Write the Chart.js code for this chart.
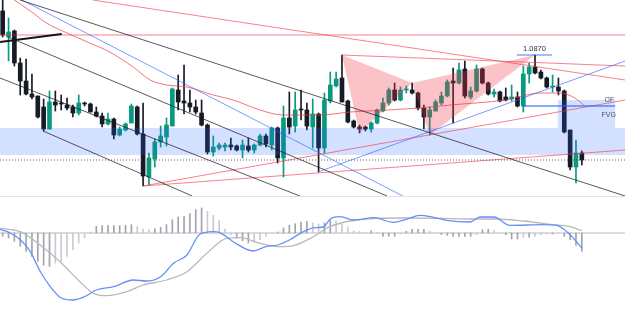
<!DOCTYPE html>
<html><head><meta charset="utf-8">
<script src="https://cdn.jsdelivr.net/npm/chart.js@4.4.1/dist/chart.umd.min.js"></script>
<style>
html,body{margin:0;padding:0;background:#fff;width:625px;height:310px;overflow:hidden}
canvas{display:block}
#sep{height:1px;background:#e0e3eb;width:625px}
</style></head><body>
<canvas id="top" width="625" height="196"></canvas>
<div id="sep"></div>
<canvas id="bot" width="625" height="113"></canvas>
<script>
// ---------- price candles (index 0..99) ----------
const opens = [1.0914,1.0888,1.0894,1.0862,1.0844,1.0831,1.0829,1.0818,1.0796,1.0823,
 1.0822,1.0820,1.0818,1.0812,1.0822,1.0821,1.0813,1.0809,1.0801,1.0806,
 1.0790,1.0795,1.0802,1.0818,1.0791,1.0748,1.0766,1.0783,1.0788,1.0799,
 1.0835,1.0824,1.0822,1.0818,1.0812,1.0800,1.0773,1.0777,1.0778,1.0780,
 1.0779,1.0775,1.0779,1.0775,1.0780,1.0789,1.0780,1.0797,1.0767,1.0807,
 1.0799,1.0816,1.0815,1.0798,1.0811,1.0777,1.0824,1.0839,1.0847,1.0824,
 1.0804,1.0798,1.0798,1.0796,1.0802,1.0814,1.0822,1.0835,1.0825,1.0835,
 1.0835,1.0832,1.0817,1.0808,1.0814,1.0822,1.0829,1.0844,1.0842,1.0856,
 1.0828,1.0834,1.0856,1.0842,1.0831,1.0833,1.0828,1.0826,1.0828,1.0819,
 1.0851,1.0858,1.0853,1.0847,1.0838,1.0838,1.0834,1.0795,1.0758,1.0772];
const highs = [1.0930,1.0907,1.0895,1.0867,1.0866,1.0851,1.0829,1.0826,1.0834,1.0834,
 1.0830,1.0827,1.0820,1.0830,1.0823,1.0822,1.0818,1.0812,1.0812,1.0807,
 1.0798,1.0802,1.0821,1.0819,1.0822,1.0772,1.0786,1.0799,1.0807,1.0837,
 1.0850,1.0860,1.0835,1.0825,1.0825,1.0801,1.0789,1.0782,1.0782,1.0787,
 1.0780,1.0785,1.0787,1.0781,1.0791,1.0791,1.0798,1.0798,1.0819,1.0833,
 1.0833,1.0835,1.0822,1.0826,1.0812,1.0832,1.0853,1.0853,1.0870,1.0825,
 1.0805,1.0800,1.0799,1.0803,1.0816,1.0827,1.0837,1.0842,1.0838,1.0839,
 1.0842,1.0833,1.0820,1.0818,1.0825,1.0833,1.0845,1.0857,1.0862,1.0864,
 1.0838,1.0860,1.0857,1.0843,1.0836,1.0834,1.0837,1.0840,1.0833,1.0859,
 1.0862,1.0870,1.0855,1.0848,1.0850,1.0847,1.0835,1.0795,1.0785,1.0774];
const lows = [1.0888,1.0864,1.0859,1.0830,1.0830,1.0826,1.0807,1.0794,1.0796,1.0814,
 1.0815,1.0815,1.0808,1.0810,1.0819,1.0813,1.0808,1.0798,1.0800,1.0786,
 1.0789,1.0794,1.0802,1.0790,1.0739,1.0740,1.0758,1.0778,1.0779,1.0799,
 1.0815,1.0811,1.0813,1.0811,1.0799,1.0771,1.0769,1.0775,1.0774,1.0775,
 1.0774,1.0767,1.0773,1.0772,1.0779,1.0778,1.0775,1.0762,1.0748,1.0791,
 1.0793,1.0805,1.0795,1.0777,1.0753,1.0772,1.0822,1.0838,1.0823,1.0802,
 1.0797,1.0792,1.0794,1.0793,1.0801,1.0813,1.0820,1.0824,1.0824,1.0832,
 1.0831,1.0815,1.0796,1.0790,1.0814,1.0820,1.0828,1.0802,1.0841,1.0827,
 1.0826,1.0833,1.0841,1.0830,1.0828,1.0823,1.0824,1.0824,1.0818,1.0813,
 1.0842,1.0851,1.0846,1.0837,1.0833,1.0830,1.0792,1.0755,1.0742,1.0760];
const closes = [1.0890,1.0893,1.0862,1.0844,1.0831,1.0828,1.0808,1.0796,1.0823,1.0820,
 1.0821,1.0817,1.0812,1.0822,1.0821,1.0813,1.0809,1.0801,1.0806,1.0790,
 1.0796,1.0801,1.0819,1.0791,1.0749,1.0767,1.0783,1.0789,1.0800,1.0836,
 1.0823,1.0822,1.0818,1.0813,1.0800,1.0773,1.0778,1.0780,1.0780,1.0778,
 1.0775,1.0780,1.0775,1.0780,1.0789,1.0781,1.0797,1.0767,1.0807,1.0798,
 1.0815,1.0815,1.0799,1.0811,1.0777,1.0825,1.0840,1.0846,1.0823,1.0803,
 1.0798,1.0796,1.0796,1.0802,1.0815,1.0822,1.0835,1.0825,1.0835,1.0836,
 1.0832,1.0817,1.0808,1.0815,1.0823,1.0829,1.0843,1.0842,1.0855,1.0829,
 1.0834,1.0856,1.0842,1.0831,1.0833,1.0824,1.0825,1.0828,1.0819,1.0851,
 1.0858,1.0852,1.0847,1.0838,1.0839,1.0834,1.0793,1.0758,1.0772,1.0765];

// ---------- moving average (index, price) ----------
const maCurve = [[1.25,1.0928],[5.2,1.0912],[7.2,1.0903],[11,1.0892],[14.9,1.0882],[18.3,1.0873],
 [22.3,1.0858],[25.2,1.0845],[28.1,1.0840],[31.5,1.0838],[36,1.0830],[39.4,1.0825],[44,1.0815],
 [47.9,1.0810],[54.2,1.0810],[59.4,1.0813],[62.3,1.0814],[71.3,1.0817],[76.5,1.0820],[85.9,1.0825],
 [91.9,1.0832],[95.3,1.0832],[97.8,1.0827],[99.5,1.0819]];

// ---------- drawn trend lines (index, price) ----------
const trendG1 = [[2.96,1.0925],[106.4,1.0729]];
const trendB  = [[0.9,1.0888],[65.7,1.0729]];
const trendC  = [[-0.46,1.0847],[50.8,1.0729]];
const trendD  = [[6.9,1.0794],[32.4,1.0729]];
const boldLine = [[-0.46,1.0883],[10.1,1.0891]];
const blueDown = [[2.96,1.0926],[68.4,1.0729]];
const blueUp   = [[53.9,1.0753],[106.4,1.0864]];
const redTop   = [[15.4,1.0925],[106.4,1.0845]];
const redFlat  = [[-0.46,1.0890],[106.4,1.0890]];
const redX     = [[58,1.0870],[106.4,1.0859]];
const redL1    = [[24,1.0739],[106.4,1.0825]];
const redL2    = [[24,1.0739],[106.4,1.0775]];
const lastPrice = 1.0765;
const highMark = [[87.9,1.0870],[93.9,1.0870]];
const ofLine = [[88.9,1.0819],[104.7,1.0819]];

// ---------- zones and pattern ----------
const zoneBand = [1.0797, 1.0770];
const fvgBoxX = [94.9, 104.7];
const fvgBoxY = [1.0825, 1.0797];
const patternX = [58, 1.0870], patternA = [61, 1.0792], patternB = [70, 1.0842],
      patternC = [73, 1.0790], patternD = [91, 1.0870];
const labelHigh = ['1.0870', 90.9, 1.0871];
const labelOF = ['OF', 103.7, 1.0825];
const labelFVG = ['FVG', 103.6, 1.0810];

// ---------- MACD ----------
const macdHist = [-3.3,-5,-8.3,-13.3,-18.3,-23.3,-28.3,-32.3,-33.3,-30,
 -28.3,-23.3,-16.7,-10,-5,1,6.7,7.3,7.3,7.3,
 7.3,7.7,8.3,6.7,4,3.3,4.3,5.7,8.3,13.3,
 16,16.7,19.3,23.3,25,21.7,17.7,12.3,4,-1.7,
 -5,-7.7,-10,-9.3,-6.7,-3.3,0,1,5,7.7,
 9.3,11,11.7,10,9,10,13,12,9,6,
 2.3,1.7,0.7,2.3,0.5,-3.3,-3.3,-3.3,-1,1.7,
 3.7,3.7,3.7,1.7,0,-1.7,-2.3,-3.3,-3.3,-3.3,
 -3.3,-1.7,3.3,3.7,2.3,0,-1.7,-6,-6,-4.3,
 -4.3,-3.3,-1.7,-1,-1,0,-3.3,-6.7,-12.3,-18.3];
const macdLine = [[-0.5,3.7],[1.3,0],[3,-6.7],[4.7,-18.3],[6.4,-38.3],[8.1,-53.3],[10,-65],[12,-67],
 [14,-63.7],[16,-57],[19,-53.7],[22.3,-47],[24.6,-48],[27,-43.7],[29.2,-30.3],[31.5,-22],[33.7,-1.3],
 [36,1.3],[37,0.7],[39.4,-8.7],[42.8,-18],[45,-13.7],[47,-12],[49,-7],[51.4,1.3],[53.4,5.3],[54.8,6],
 [56,14],[57.7,16.3],[60,13],[63.4,15.3],[66.8,10.7],[69,13.7],[71.3,17.7],[73.6,15.7],[75.9,12.7],
 [79.9,11],[81.6,16],[84,16],[86.7,7.7],[92.4,8.3],[94.7,7.7],[97,-1.7],[99,-15]];
const signalLine = [[-0.5,4.7],[3,1.3],[6.4,-12],[9.8,-28.7],[13.2,-48.7],[15.5,-60.3],[17.8,-62.7],
 [21.2,-58.7],[24,-52],[28,-47],[31.5,-38.7],[34.9,-20.3],[38.3,-5.3],[40.6,-4.7],[44,-10.3],
 [47.4,-13.7],[49.7,-12.7],[53.1,-3.7],[55.9,6.3],[59.4,12],[63.9,14.7],[69,15],[75.3,14.7],
 [79.9,14],[84.4,14],[89,12],[93.6,8.7],[97,6.3],[99,2.3]];

// ---------- view ----------
const X_MIN = -0.46, X_MAX = 106.38;
const P_MIN = 1.0729, P_MAX = 1.0925;
const M_MIN = -77, M_MAX = 36;

const GREEN = '#089981', DARK = '#171b26';
const RED = 'rgba(242,54,69,0.62)', BLUE = 'rgba(41,98,255,0.62)', GREY = 'rgba(25,25,30,0.72)';
const pts = a => a.map(p => ({x: p[0], y: p[1]}));
const seg = (arr, color, width, order, extra) => Object.assign({
  type: 'line', data: pts(arr), borderColor: color, borderWidth: width,
  pointRadius: 0, tension: 0, fill: false, order: order
}, extra || {});

const idx = opens.map((_, i) => i);
const candleColor = idx.map(i => closes[i] >= opens[i] ? GREEN : DARK);

const overlayPlugin = {
  id: 'overlay',
  afterDatasetDraw(chart, args) {
    if (chart.data.datasets[args.index].label !== 'bodies') return;
    const x = chart.scales.x, y = chart.scales.y, c = chart.ctx;
    const px = v => x.getPixelForValue(v), py = v => y.getPixelForValue(v);
    c.save();
    c.fillStyle = 'rgba(41,98,255,0.2)';
    c.fillRect(px(X_MIN), py(zoneBand[0]), px(X_MAX) - px(X_MIN), py(zoneBand[1]) - py(zoneBand[0]));
    c.fillRect(px(fvgBoxX[0]), py(fvgBoxY[0]), px(fvgBoxX[1]) - px(fvgBoxX[0]), py(fvgBoxY[1]) - py(fvgBoxY[0]));
    c.fillStyle = 'rgba(242,54,69,0.3)';
    [[patternX, patternA, patternB], [patternB, patternC, patternD]].forEach(tri => {
      c.beginPath();
      c.moveTo(px(tri[0][0]), py(tri[0][1]));
      c.lineTo(px(tri[1][0]), py(tri[1][1]));
      c.lineTo(px(tri[2][0]), py(tri[2][1]));
      c.closePath();
      c.fill();
    });
    c.restore();
  },
  afterDraw(chart) {
    const x = chart.scales.x, y = chart.scales.y, c = chart.ctx;
    c.save();
    c.textAlign = 'center';
    c.font = '7.5px "Liberation Sans", Arial, sans-serif';
    c.fillStyle = '#2a2e39';
    c.textBaseline = 'bottom';
    c.fillText(labelHigh[0], x.getPixelForValue(labelHigh[1]), y.getPixelForValue(labelHigh[2]) - 1);
    c.font = '7px "Liberation Sans", Arial, sans-serif';
    c.fillStyle = '#50535e';
    c.textBaseline = 'middle';
    c.fillText(labelOF[0], x.getPixelForValue(labelOF[1]), y.getPixelForValue(labelOF[2]) + 0.5);
    c.fillText(labelFVG[0], x.getPixelForValue(labelFVG[1]), y.getPixelForValue(labelFVG[2]));
    c.restore();
  }
};

const baseOpts = (ymin, ymax) => ({
  responsive: false, animation: false, devicePixelRatio: 1,
  layout: {padding: 0},
  plugins: {legend: {display: false}, tooltip: {enabled: false}},
  events: [],
  scales: {
    x: {type: 'linear', min: X_MIN, max: X_MAX, offset: false, display: false},
    y: {type: 'linear', min: ymin, max: ymax, display: false, beginAtZero: false}
  }
});

new Chart(document.getElementById('top'), {
  type: 'bar',
  data: {datasets: [
    seg(highMark, 'rgba(41,98,255,0.85)', 1, 1),
    seg(ofLine, 'rgba(41,98,255,0.55)', 2, 1),
    seg([[X_MIN, lastPrice], [X_MAX, lastPrice]], 'rgba(60,60,70,0.8)', 1, 2, {borderDash: [1, 2]}),
    seg(boldLine, '#15171c', 2, 2),
    seg(trendG1, GREY, 1, 3), seg(trendB, GREY, 1, 3), seg(trendC, GREY, 1, 3), seg(trendD, GREY, 1, 3),
    seg(blueDown, BLUE, 1, 3), seg(blueUp, BLUE, 1, 3),
    seg(redTop, RED, 1, 3), seg(redFlat, RED, 1, 3), seg(redX, RED, 1, 3),
    seg(redL1, RED, 1, 3), seg(redL2, RED, 1, 3),
    seg(maCurve, 'rgba(242,54,69,0.7)', 1, 3, {cubicInterpolationMode: 'monotone'}),
    {label: 'bodies', data: idx.map(i => ({x: i, y: [opens[i], closes[i]]})),
     backgroundColor: candleColor, barThickness: 4, minBarLength: 1, grouped: false, order: 10},
    {label: 'wicks', data: idx.map(i => ({x: i, y: [lows[i], highs[i]]})),
     backgroundColor: candleColor, barThickness: 1, grouped: false, order: 11}
  ]},
  options: baseOpts(P_MIN, P_MAX),
  plugins: [overlayPlugin]
});

const histColor = macdHist.map((v, i) => (i > 0 && Math.abs(v) < Math.abs(macdHist[i - 1])) ? '#c9cbd1' : '#a1a4ad');
new Chart(document.getElementById('bot'), {
  type: 'bar',
  data: {datasets: [
    seg(macdLine, '#6690f6', 1.3, 0, {tension: 0.4, cubicInterpolationMode: 'monotone'}),
    seg(signalLine, '#b8b9bd', 1.3, 1, {tension: 0.4, cubicInterpolationMode: 'monotone'}),
    {label: 'hist', data: idx.map(i => ({x: i, y: macdHist[i]})), backgroundColor: histColor,
     barThickness: 1, grouped: false, order: 2},
    seg([[X_MIN, 0], [X_MAX, 0]], '#b5b8c0', 1, 3)
  ]},
  options: baseOpts(M_MIN, M_MAX)
});
</script>
</body></html>
